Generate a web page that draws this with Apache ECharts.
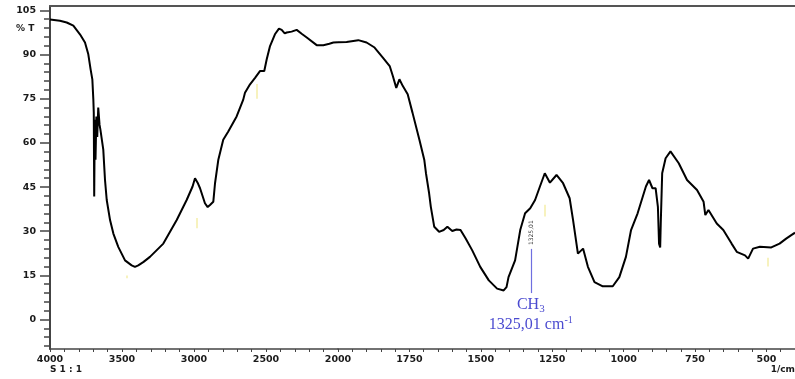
<!DOCTYPE html>
<html>
<head>
<meta charset="utf-8">
<script src="https://cdn.jsdelivr.net/npm/echarts@6/dist/echarts.min.js"></script>
<style>
  html, body { margin: 0; padding: 0; background: #fff; }
  #chart { width: 795px; height: 379px; }
</style>
</head>
<body>
<div id="chart"></div>
<script>
// FTIR spectrum: wavenumber (1/cm) against transmittance (%T)
const wavenumbers = [
  4000, 3988, 3931, 3884, 3838, 3792, 3757, 3734, 3718, 3706, 3699, 3696,
  3693, 3689, 3684, 3678, 3672, 3665, 3656, 3650, 3630, 3618, 3606, 3583,
  3560, 3526, 3479, 3433, 3410, 3387, 3350, 3306, 3213, 3120, 3051, 3010,
  2993, 2975, 2958, 2924, 2905, 2889, 2866, 2854, 2831, 2797, 2762, 2704,
  2658, 2646, 2611, 2576, 2542, 2512, 2495, 2472, 2438, 2410, 2391, 2370,
  2356, 2322, 2287, 2250, 2217, 2148, 2102, 2060, 2032, 2000,
  1970, 1929, 1900, 1872, 1843, 1819, 1808, 1796, 1785, 1773, 1756, 1739,
  1715, 1698, 1692, 1681, 1675, 1663, 1646, 1630, 1617, 1600, 1585, 1571,
  1553, 1530, 1502, 1472, 1443, 1420, 1410, 1403, 1380, 1362, 1345, 1327,
  1310, 1293, 1276, 1258, 1235, 1212, 1189, 1177, 1160, 1142, 1125, 1102,
  1073, 1038, 1015, 992, 974, 951, 922, 911, 899, 888, 880, 876,
  872, 870, 865, 853, 836, 807, 778, 743, 720, 714, 703, 674,
  651, 622, 604, 575, 564, 547, 523, 483, 454, 431, 413, 400
];
const transmittance = [
  101.9, 101.8, 101.5, 100.9, 99.8, 96.9, 94.1, 90.1, 85.0, 81.6, 74.7, 70.3,
  41.8, 67.9, 54.3, 69.0, 62.0, 72.0, 66.2, 64.5, 57.7, 47.4, 40.6, 33.8,
  29.2, 24.7, 20.1, 18.4, 17.9, 18.4, 19.6, 21.3, 25.8, 33.8, 40.6, 45.2,
  48.0, 46.5, 44.6, 39.5, 38.2, 38.9, 40.0, 46.3, 54.3, 61.1, 63.9, 69.0,
  74.7, 77.0, 79.9, 82.1, 84.4, 84.4, 88.4, 92.9, 96.9, 98.8, 98.4, 97.2,
  97.5, 97.8, 98.4, 97.0, 95.8, 93.2, 93.2, 93.7, 94.1, 94.2,
  94.3, 94.9, 94.1, 92.4, 89.0, 86.1, 82.7, 78.7, 81.6, 79.3, 76.5, 70.2,
  61.1, 54.3, 49.7, 42.9, 38.3, 31.5, 29.8, 30.4, 31.5, 30.1, 30.6, 30.4,
  27.5, 23.5, 17.9, 13.3, 10.5, 9.9, 11.0, 14.4, 20.1, 30.4, 36.1, 37.8,
  40.6, 45.2, 49.7, 46.5, 49.1, 46.3, 41.2, 33.8, 22.4, 24.1, 17.9, 12.7,
  11.3, 11.3, 14.4, 21.3, 30.4, 36.1, 45.2, 47.4, 44.6, 44.6, 38.3, 25.8,
  24.5, 32.6, 49.7, 54.8, 57.1, 53.1, 47.4, 44.0, 40.0, 35.5, 37.2, 32.6,
  30.4, 25.8, 23.0, 21.8, 20.7, 24.1, 24.7, 24.5, 25.8, 27.5, 28.7, 29.5
];

// Axis tick labels (the wavenumber scale halves its density below 2000 1/cm)
const highRangeLabels = [4000, 3500, 3000, 2500];
const lowRangeLabels = [2000, 1750, 1500, 1250, 1000, 750, 500];
const yLabels = [0, 15, 30, 45, 60, 75, 90, 105];

// Annotated band
const bandWavenumber = 1325.01;
const bandName = ['CH', '3'];
const bandText = ['1325,01 cm', '-1'];
const bandLineTop = 24;
const bandLineBottom = 9;

// Faint peak-pick markers below some bands: [wavenumber, lower %T, upper %T]
const peakPicks = [
  [3467, 14.0, 15.0],
  [2981, 31.0, 34.5],
  [2565, 75.0, 80.0],
  [1276, 35.0, 39.0],
  [494, 18.0, 21.0]
];

const highData = [];
const lowData = [];
wavenumbers.forEach((w, i) => {
  if (w >= 2000) highData.push([w, transmittance[i]]);
  if (w <= 2000) lowData.push([w, transmittance[i]]);
});

function range(from, to, step) {
  const out = [];
  for (let v = from; step > 0 ? v <= to : v >= to; v += step) out.push(v);
  return out;
}

const Y_MIN = -10, Y_MAX = 106.5;
const labelFont = {
  color: '#1a1a1a',
  fontFamily: 'DejaVu Sans',
  fontWeight: 'bold',
  fontSize: 9.5,
  formatter: v => String(v)
};
const frameColor = '#444';

function pickLines(gridSide) {
  return peakPicks
    .filter(p => gridSide === 'high' ? p[0] > 2000 : p[0] <= 2000)
    .map(p => [{ coord: [p[0], p[1]] }, { coord: [p[0], p[2]] }]);
}

function frameAxis(gridIndex, min, max) {
  return {
    gridIndex, type: 'value', min, max, inverse: true, position: 'top',
    axisLine: { show: true, onZero: false, lineStyle: { color: '#555', width: 2 } },
    axisTick: { show: false }, axisLabel: { show: false }, splitLine: { show: false }
  };
}

const chart = echarts.init(document.getElementById('chart'), null, { renderer: 'canvas' });

chart.setOption({
  backgroundColor: '#fff',
  animation: false,
  grid: [
    { left: 50, top: 6, width: 288, height: 343 },
    { left: 338, top: 6, width: 460, height: 343 }
  ],
  xAxis: [
    {
      gridIndex: 0, type: 'value', min: 2000, max: 4000, inverse: true, position: 'bottom',
      axisLine: { show: true, onZero: false, lineStyle: { color: frameColor, width: 1.5 } },
      axisTick: { show: true, length: 3, customValues: range(4000, 2100, -100),
                  lineStyle: { color: frameColor, width: 1 } },
      axisLabel: Object.assign({ customValues: highRangeLabels, margin: 6 }, labelFont),
      splitLine: { show: false }
    },
    {
      gridIndex: 1, type: 'value', min: 400, max: 2000, inverse: true, position: 'bottom',
      axisLine: { show: true, onZero: false, lineStyle: { color: frameColor, width: 1.5 } },
      axisTick: { show: true, length: 3, customValues: range(2000, 450, -50),
                  lineStyle: { color: frameColor, width: 1 } },
      axisLabel: Object.assign({ customValues: lowRangeLabels, margin: 6 }, labelFont),
      splitLine: { show: false }
    },
    frameAxis(0, 2000, 4000),
    frameAxis(1, 400, 2000)
  ],
  yAxis: [
    {
      gridIndex: 0, type: 'value', min: Y_MIN, max: Y_MAX, position: 'left',
      axisLine: { show: true, onZero: false, lineStyle: { color: frameColor, width: 2 } },
      axisTick: { show: true, length: 10, customValues: yLabels,
                  lineStyle: { color: frameColor, width: 1.5 } },
      axisLabel: Object.assign({ customValues: yLabels, margin: 14 }, labelFont),
      splitLine: { show: false }
    },
    {
      gridIndex: 0, type: 'value', min: Y_MIN, max: Y_MAX, position: 'left',
      axisLine: { show: false, onZero: false },
      axisTick: { show: true, length: 6, customValues: range(-9, 105, 3),
                  lineStyle: { color: frameColor, width: 1.5 } },
      axisLabel: { show: false },
      splitLine: { show: false }
    },
    {
      gridIndex: 1, type: 'value', min: Y_MIN, max: Y_MAX,
      show: false
    }
  ],
  series: [
    {
      type: 'line', xAxisIndex: 0, yAxisIndex: 0, data: highData,
      showSymbol: false, symbol: 'none', smooth: false,
      lineStyle: { color: '#000', width: 2 },
      markLine: {
        silent: true, symbol: 'none', label: { show: false },
        lineStyle: { color: '#f4eea8', width: 1.5, type: 'solid' },
        data: pickLines('high')
      }
    },
    {
      type: 'line', xAxisIndex: 1, yAxisIndex: 2, data: lowData,
      showSymbol: false, symbol: 'none', smooth: false,
      lineStyle: { color: '#000', width: 2 },
      markLine: {
        silent: true, symbol: 'none',
        data: [
          [
            {
              coord: [bandWavenumber, bandLineTop],
              lineStyle: { color: '#6f6fe0', width: 1.2, type: 'solid' },
              label: {
                show: true, position: 'end', distance: 2,
                formatter: '{a|' + bandName[0] + '}{s|' + bandName[1] + '}\n' +
                           '{a|' + bandText[0] + '}{p|' + bandText[1] + '}',
                rich: {
                  a: { fontFamily: 'Liberation Serif', fontSize: 16, color: '#4b4bd0',
                       lineHeight: 20 },
                  s: { fontFamily: 'Liberation Serif', fontSize: 11, color: '#4b4bd0',
                       lineHeight: 12, verticalAlign: 'bottom' },
                  p: { fontFamily: 'Liberation Serif', fontSize: 10, color: '#4b4bd0',
                       lineHeight: 11, verticalAlign: 'top' }
                }
              }
            },
            { coord: [bandWavenumber, bandLineBottom] }
          ]
        ].concat(pickLines('low').map(seg => [
          Object.assign({ lineStyle: { color: '#f4eea8', width: 1.5, type: 'solid' },
                          label: { show: false } }, seg[0]),
          seg[1]
        ]))
      },
      markPoint: {
        silent: true,
        symbol: 'rect', symbolSize: [0.1, 0.1],
        data: [
          {
            coord: [bandWavenumber - 2, 29.5],
            label: {
              show: true, position: 'inside', rotate: 90,
              formatter: '1325,01',
              fontSize: 6, fontFamily: 'DejaVu Sans', color: '#333',
              backgroundColor: '#fff'
            }
          }
        ]
      }
    }
  ],
  graphic: [
    { type: 'text', left: 16, top: 24,
      style: { text: '% T', font: 'bold 9px DejaVu Sans', fill: '#1a1a1a' } },
    { type: 'text', left: 50, top: 365,
      style: { text: 'S 1 : 1', font: 'bold 9px DejaVu Sans', fill: '#1a1a1a' } },
    { type: 'text', right: 0, top: 365,
      style: { text: '1/cm', font: 'bold 9px DejaVu Sans', fill: '#1a1a1a' } }
  ]
});
</script>
</body>
</html>
